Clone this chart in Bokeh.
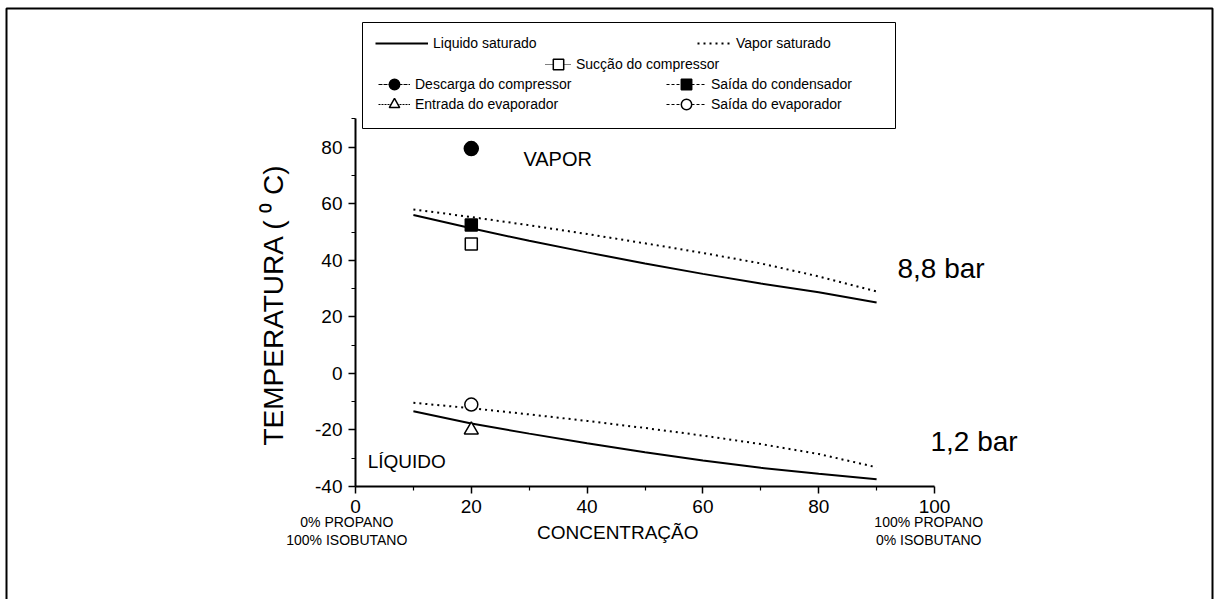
from bokeh.plotting import figure
from bokeh.models import Range1d, FixedTicker, Legend, LegendItem, BoxAnnotation
from bokeh.core.properties import value
from bokeh.embed import file_html
from bokeh.resources import INLINE

# Propane content of the propane / isobutane blend (%)
concentration = [10, 20, 30, 40, 50, 60, 70, 80, 90]

# Saturation temperatures (deg C) at 8,8 bar
liq_sat_88 = [56.0, 51.3, 46.9, 42.8, 38.9, 35.2, 31.8, 28.7, 25.1]
vap_sat_88 = [58.0, 55.3, 52.4, 49.3, 46.0, 42.6, 38.9, 34.3, 29.0]

# Saturation temperatures (deg C) at 1,2 bar
liq_sat_12 = [-13.4, -17.7, -21.3, -24.7, -27.9, -30.8, -33.4, -35.5, -37.4]
vap_sat_12 = [-10.4, -12.3, -14.5, -16.8, -19.3, -22.0, -25.0, -28.5, -33.2]

# Measured cycle states for the 20 % propane charge
state_conc = [20]
succao_compressor = [45.8]
descarga_compressor = [79.5]
saida_condensador = [52.5]
entrada_evaporador = [-20.0]
saida_evaporador = [-11.0]

x_ticks = [0, 20, 40, 60, 80, 100]
y_ticks = [-40, -20, 0, 20, 40, 60, 80]

W, H = 1215, 599
FONT = "Liberation Sans"

# pixel placement of the axes on the page
X0_PX, X100_PX = 355.0, 934.0
YM40_PX, Y80_PX = 486.0, 146.7
sx = (X100_PX - X0_PX) / 100.0
sy = (YM40_PX - Y80_PX) / 120.0

x_range = Range1d(-X0_PX / sx, (W - X0_PX) / sx)
y_range = Range1d(-40 - (H - YM40_PX) / sy, -40 + YM40_PX / sy)

p = figure(width=W, height=H, x_range=x_range, y_range=y_range,
           output_backend="svg", toolbar_location=None,
           min_border=0, min_border_left=0, min_border_right=0,
           min_border_top=0, min_border_bottom=0)
p.outline_line_color = None
p.xgrid.visible = False
p.ygrid.visible = False
p.background_fill_color = "white"
p.border_fill_color = "white"

# axes drawn at the data origin lines
for ax in (p.xaxis[0], p.yaxis[0]):
    ax.axis_line_width = 2
    ax.major_tick_line_width = 1.5
    ax.minor_tick_line_width = 1.2
    ax.major_tick_out = 7
    ax.major_tick_in = 0
    ax.minor_tick_out = 4
    ax.minor_tick_in = 0
    ax.major_label_text_font = FONT
    ax.major_label_text_font_size = "19px"
    ax.major_label_text_color = "black"
    ax.axis_line_color = "black"
    ax.major_tick_line_color = "black"
    ax.minor_tick_line_color = "black"

xa = p.xaxis[0]
xa.fixed_location = -40
xa.bounds = (x_ticks[0], x_ticks[-1])
xa.ticker = FixedTicker(ticks=x_ticks,
                        minor_ticks=[t + 10 for t in x_ticks[:-1]])
xa.major_label_standoff = 6

ya = p.yaxis[0]
ya.fixed_location = 0
ya.bounds = (y_ticks[0], 90)
ya.ticker = FixedTicker(ticks=y_ticks,
                        minor_ticks=[t + 10 for t in y_ticks])
ya.major_label_standoff = 6
# plain hyphen for negative values
ya.major_label_overrides = {t: "%d" % t for t in y_ticks if t < 0}

# saturation curves
r_liq88 = p.line(concentration, liq_sat_88, line_color="black", line_width=2)
r_vap88 = p.line(concentration, vap_sat_88, line_color="black", line_width=2,
                 line_dash="2 4")
p.line(concentration, liq_sat_12, line_color="black", line_width=2)
p.line(concentration, vap_sat_12, line_color="black", line_width=2,
       line_dash="2 4")

# cycle states (line renderers give the legend its connecting stroke)
def state(values, marker, fill, dash, size):
    ln = p.line(state_conc, values, line_color="black", line_width=1,
                line_dash=dash)
    sc = p.scatter(state_conc, values, marker=marker, size=size,
                   fill_color=fill, line_color="black", line_width=1.5)
    return [ln, sc]

r_succ = state(succao_compressor, "square", "white", "1 1", 12)
r_desc = state(descarga_compressor, "circle", "black", "4 1", 14)
r_cond = state(saida_condensador, "square", "black", "3 2", 12)
r_entr = state(entrada_evaporador, "triangle", "white", "2 1", 14)
r_said = state(saida_evaporador, "circle", "white", "3 2", 13)

# annotations inside the diagram
txt = dict(text_font=value(FONT), text_color="black")
p.text(x=[29.0], y=[76.0], text=["VAPOR"], text_font_size="20px",
       text_align="left", text_baseline="middle", **txt)
p.text(x=[2.1], y=[-31.2], text=["LÍQUIDO"], text_font_size="19px",
       text_align="left", text_baseline="middle", **txt)
p.text(x=[93.6], y=[37.0], text=["8,8 bar"], text_font_size="28px",
       text_align="left", text_baseline="middle", **txt)
p.text(x=[99.3], y=[-24.0], text=["1,2 bar"], text_font_size="28px",
       text_align="left", text_baseline="middle", **txt)

# axis titles
p.text(x=[45.3], y=[-56.3], text=["CONCENTRAÇÃO"], text_font_size="19px",
       text_align="center", text_baseline="middle", **txt)
p.text(x=[-14.2], y=[24.3], text=["TEMPERATURA ( \u2070 C)"],
       text_font_size="28px", angle=1.5708,
       text_align="center", text_baseline="middle", **txt)

# blend composition at both ends of the axis
p.text(x=[-1.5, -1.5], y=[-52.7, -59.0],
       text=["0% PROPANO", "100% ISOBUTANO"], text_font_size="14px",
       text_align="center", text_baseline="middle", **txt)
p.text(x=[99.0, 99.0], y=[-52.7, -59.0],
       text=["100% PROPANO", "0% ISOBUTANO"], text_font_size="14px",
       text_align="center", text_baseline="middle", **txt)

# page frame and key frame
frame_style = dict(left_units="canvas", right_units="canvas",
                   top_units="canvas", bottom_units="canvas",
                   fill_alpha=0, line_color="black", line_alpha=1)
p.add_layout(BoxAnnotation(left=6, right=1212, top=8, bottom=H + 40,
                           line_width=2, **frame_style))
p.add_layout(BoxAnnotation(left=362, right=895, top=22, bottom=128,
                           line_width=1, **frame_style))

KEY_H = 26

def key(label, renderers, x_left, y_center, glyph_w):
    leg = Legend(items=[LegendItem(label=label, renderers=renderers)],
                 location=(x_left, H - y_center - KEY_H / 2),
                 glyph_width=glyph_w, glyph_height=KEY_H,
                 label_height=KEY_H, label_width=10,
                 padding=0, margin=0, spacing=0, label_standoff=5,
                 border_line_color=None, background_fill_alpha=0,
                 label_text_font=FONT, label_text_font_size="14px",
                 label_text_baseline="middle", label_text_color="black")
    p.add_layout(leg)

key("Liquido saturado", [r_liq88], 375, 43, 53)
key("Vapor saturado", [r_vap88], 697, 43, 34)
key("Sucção do compressor", r_succ, 545, 64, 26)
key("Descarga do compressor", r_desc, 378, 84, 32)
key("Saída do condensador", r_cond, 666, 84, 40)
key("Entrada do evaporador", r_entr, 378, 104, 32)
key("Saída do evaporador", r_said, 666, 104, 40)

open("out.html", "w").write(file_html(p, INLINE))
